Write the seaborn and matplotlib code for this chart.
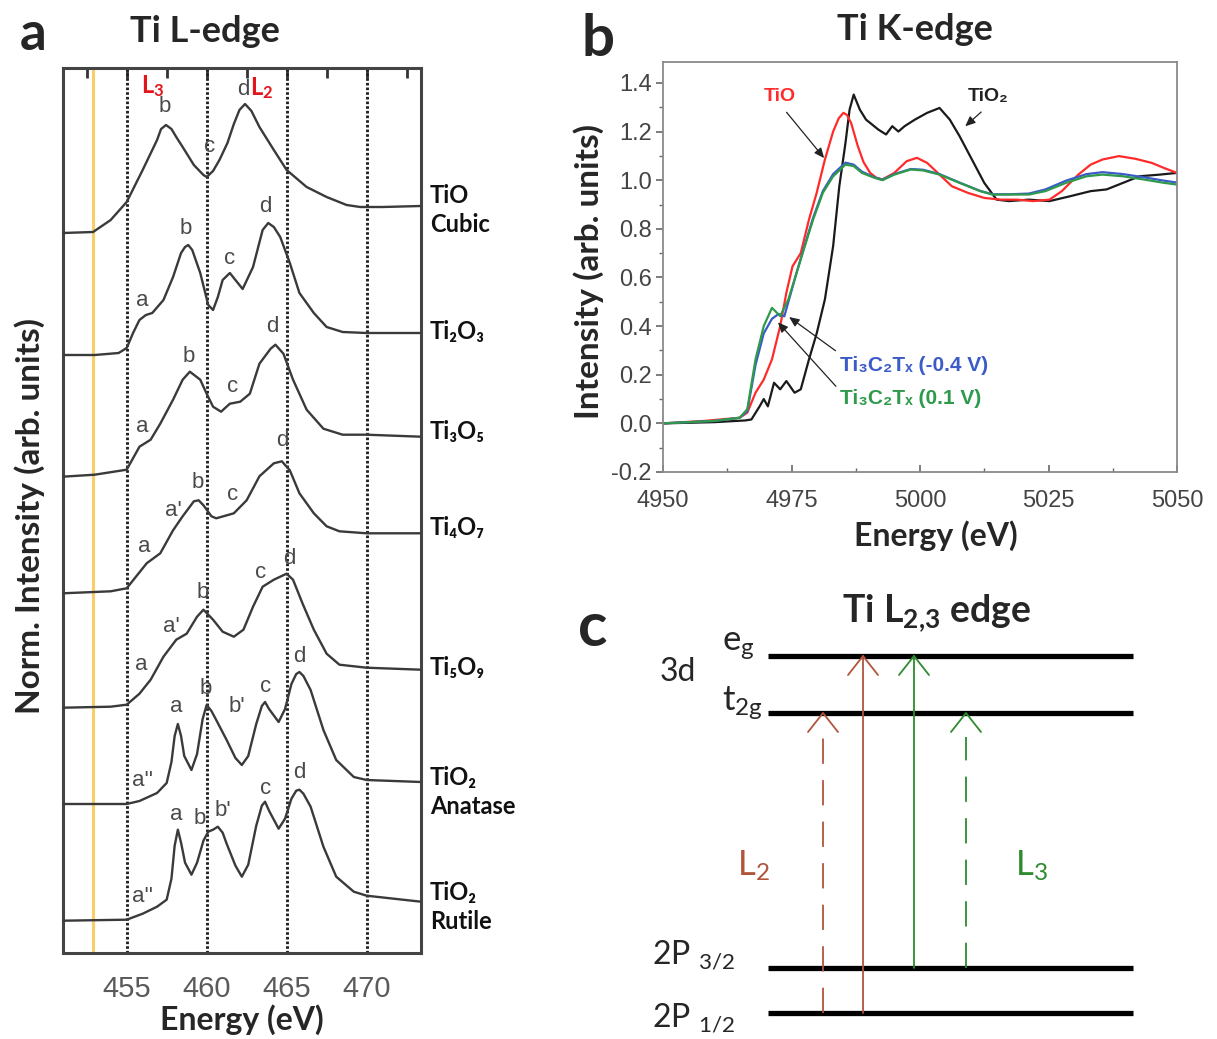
import matplotlib
matplotlib.use("Agg")
import matplotlib.pyplot as plt
from matplotlib.ticker import MultipleLocator
import numpy as np
import pandas as pd
import seaborn as sns

W, H = 1217, 1039

# ---------------- Panel a: Ti L-edge spectra of titanium oxides ----------------
tio_cubic_e = [451.0, 452.9, 454.0, 455.0, 456.0, 456.9, 457.15, 457.46, 457.8, 458.1, 458.5,
               459.2, 459.8, 460.0, 460.4, 460.8, 461.3, 461.7, 462.05, 462.4, 462.8,
               463.3, 464.2, 465.0, 466.25, 467.5, 468.75, 469.6, 471.0, 473.4]
tio_cubic_i = [0.0, 0.01, 0.13, 0.31, 0.63, 0.93, 1.04, 1.08, 1.04, 0.96, 0.86,
               0.68, 0.58, 0.56, 0.62, 0.73, 0.90, 1.09, 1.23, 1.29, 1.22,
               1.06, 0.83, 0.63, 0.46, 0.36, 0.28, 0.26, 0.26, 0.27]

ti2o3_e = [451.0, 453.0, 454.5, 455.0, 455.4, 455.8, 456.2, 456.6, 457.3, 457.9, 458.4,
           458.65, 458.85, 459.1, 459.6, 460.1, 460.4, 460.7, 461.0, 461.45, 461.85, 462.25,
           462.9, 463.5, 463.85, 464.2, 464.6, 465.2, 465.8, 466.7, 467.5, 468.5, 470.0,
           473.4]
ti2o3_i = [0.0, 0.0, 0.02, 0.07, 0.22, 0.35, 0.40, 0.42, 0.55, 0.78, 1.02,
           1.08, 1.10, 1.05, 0.82, 0.50, 0.45, 0.58, 0.75, 0.82, 0.74, 0.66,
           0.88, 1.25, 1.32, 1.28, 1.18, 0.92, 0.62, 0.42, 0.28, 0.23, 0.22,
           0.22]

ti3o5_e = [451.0, 453.0, 455.0, 455.8, 456.5, 457.1, 457.9, 458.5, 458.95, 459.6, 460.0,
           460.4, 460.9, 461.45, 462.1, 462.7, 463.3, 464.0, 464.3, 464.8, 465.4,
           466.25, 467.3, 468.5, 470.0, 473.4]
ti3o5_i = [0.0, 0.02, 0.07, 0.30, 0.37, 0.53, 0.77, 0.97, 1.05, 0.97, 0.83,
           0.70, 0.65, 0.73, 0.75, 0.83, 1.13, 1.28, 1.32, 1.23, 0.97,
           0.67, 0.48, 0.42, 0.42, 0.40]

ti4o7_e = [451.0, 454.0, 455.0, 455.6, 456.25, 457.1, 457.9, 458.5, 459.2, 459.5, 459.8,
           460.3, 460.6, 461.7, 462.5, 463.3, 464.2, 464.7, 465.2, 465.8, 466.7,
           467.5, 468.3, 470.0, 473.4]
ti4o7_i = [0.0, 0.02, 0.05, 0.17, 0.30, 0.40, 0.63, 0.77, 0.92, 0.93, 0.88,
           0.77, 0.75, 0.80, 0.93, 1.17, 1.30, 1.32, 1.23, 1.00, 0.80,
           0.67, 0.62, 0.60, 0.60]

ti5o9_e = [451.0, 454.0, 455.0, 455.8, 456.5, 457.3, 458.1, 458.75, 459.4, 459.8, 460.4,
           461.0, 461.7, 462.3, 462.9, 463.5, 464.2, 465.0, 465.4, 466.0, 466.7,
           467.5, 468.3, 470.0, 473.4]
ti5o9_i = [0.0, 0.01, 0.03, 0.14, 0.28, 0.51, 0.68, 0.74, 0.91, 0.98, 0.88,
           0.76, 0.71, 0.78, 1.01, 1.21, 1.28, 1.34, 1.28, 1.04, 0.78,
           0.54, 0.43, 0.40, 0.38]

anatase_e = [451.0, 455.0, 455.8, 456.9, 457.5, 457.8, 458.0, 458.2, 458.4, 458.6, 459.05,
             459.4, 459.75, 460.0, 460.3, 460.6, 461.25, 461.8, 462.2, 462.6, 463.1,
             463.45, 463.65, 463.9, 464.5, 464.9, 465.3, 465.6, 465.8, 466.05, 466.5,
             467.3, 468.1, 469.2, 470.0, 473.4]
anatase_i = [0.0, 0.0, 0.03, 0.11, 0.21, 0.42, 0.68, 0.80, 0.68, 0.48, 0.34,
             0.50, 0.85, 0.99, 0.93, 0.84, 0.64, 0.46, 0.39, 0.48, 0.80,
             0.98, 1.02, 0.95, 0.82, 0.95, 1.20, 1.30, 1.32, 1.28, 1.14,
             0.74, 0.44, 0.27, 0.24, 0.22]

rutile_e = [451.0, 455.0, 456.0, 456.9, 457.5, 457.8, 458.0, 458.2, 458.4, 458.65, 459.05,
            459.4, 459.8, 460.1, 460.4, 460.7, 461.0, 461.25, 461.8, 462.2, 462.6,
            463.1, 463.45, 463.65, 463.9, 464.5, 464.9, 465.3, 465.6, 465.8, 466.05,
            466.5, 467.3, 468.1, 469.2, 470.0, 473.4]
rutile_i = [0.0, 0.01, 0.07, 0.14, 0.21, 0.42, 0.75, 0.91, 0.78, 0.58, 0.46,
            0.58, 0.80, 0.89, 0.91, 0.94, 0.88, 0.77, 0.55, 0.44, 0.56,
            0.95, 1.15, 1.19, 1.10, 0.92, 1.02, 1.22, 1.30, 1.31, 1.27,
            1.14, 0.74, 0.44, 0.29, 0.25, 0.19]

l_edge_names = ["TiO\nCubic", "Ti₂O₃", "Ti₃O₅", "Ti₄O₇", "Ti₅O₉", "TiO₂\nAnatase", "TiO₂\nRutile"]
l_edge_energy = [tio_cubic_e, ti2o3_e, ti3o5_e, ti4o7_e, ti5o9_e, anatase_e, rutile_e]
l_edge_intensity = [tio_cubic_i, ti2o3_i, ti3o5_i, ti4o7_i, ti5o9_i, anatase_i, rutile_i]
l_edge_offset = [7.20, 5.98, 4.763, 3.597, 2.453, 1.49, 0.323]

# peak letters: (energy, stacked height, text)
l_edge_peaks = [
    [(457.39, 8.46, "b"), (460.2, 8.07, "c"), (462.27, 8.63, "d")],
    [(455.96, 6.53, "a"), (458.7, 7.25, "b"), (461.46, 6.95, "c"), (463.64, 7.46, "d")],
    [(455.96, 5.26, "a"), (458.9, 5.97, "b"), (461.64, 5.67, "c"), (464.08, 6.26, "d")],
    [(456.08, 4.07, "a"), (457.9, 4.43, "a'"), (459.46, 4.71, "b"), (461.64, 4.58, "c"),
     (464.7, 5.12, "d")],
    [(455.9, 2.88, "a"), (457.77, 3.26, "a'"), (459.77, 3.6, "b"), (463.4, 3.8, "c"),
     (465.14, 3.94, "d")],
    [(456.0, 1.72, "a''"), (458.1, 2.46, "a"), (459.96, 2.65, "b"), (461.9, 2.46, "b'"),
     (463.7, 2.67, "c"), (465.8, 2.97, "d")],
    [(456.0, 0.56, "a''"), (458.1, 1.39, "a"), (459.55, 1.35, "b"), (461.0, 1.43, "b'"),
     (463.7, 1.65, "c"), (465.8, 1.80, "d")],
]
l_edge_guides = [455, 460, 465, 470]
onset_energy = 452.9

# ---------------- Panel b: Ti K-edge XANES ----------------
k_tio_e = [4950, 4958, 4964.9, 4966.4, 4968.0, 4969.6, 4971.2, 4972.8, 4974.0, 4975.2, 4976.8,
           4978.4, 4979.9, 4981.5, 4983.1, 4984.2, 4985.1, 4985.8, 4986.6, 4987.9, 4989.0,
           4990.3, 4991.5, 4992.7, 4995.0, 4997.4, 4999.4, 5001.4, 5003.8, 5006.2, 5009.3,
           5012.5, 5015.7, 5018.9, 5022.0, 5025.2, 5027.6, 5030.8, 5033.2, 5035.5, 5038.7,
           5041.9, 5045.1, 5047.5, 5050]
k_tio_i = [0.0, 0.01, 0.023, 0.044, 0.126, 0.18, 0.263, 0.40, 0.537, 0.646, 0.70,
           0.838, 0.948, 1.085, 1.20, 1.255, 1.277, 1.268, 1.235, 1.14, 1.075,
           1.03, 1.01, 1.003, 1.03, 1.078, 1.092, 1.071, 1.023, 0.975, 0.948,
           0.927, 0.92, 0.92, 0.914, 0.92, 0.955, 1.023, 1.064, 1.085, 1.099,
           1.088, 1.071, 1.05, 1.03]

k_tio2_e = [4950, 4960, 4966.0, 4967.2, 4968.8, 4969.6, 4970.4, 4971.6, 4972.8, 4974.0,
            4975.6, 4976.8, 4978.4, 4979.9, 4981.5, 4983.1, 4984.3, 4985.5, 4986.3, 4987.1,
            4988.3, 4989.5, 4991.9, 4993.4, 4994.6, 4995.8, 4997.0, 4999.0, 5001.4, 5003.8,
            5005.8, 5007.7, 5010.1, 5012.5, 5014.9, 5017.3, 5021.2, 5025.2, 5029.2, 5033.2,
            5036.3, 5039.5, 5042.7, 5046.7, 5050]
k_tio2_i = [0.0, 0.005, 0.012, 0.016, 0.07, 0.10, 0.07, 0.167, 0.14, 0.174,
            0.126, 0.14, 0.263, 0.37, 0.51, 0.729, 0.975, 1.153, 1.29, 1.352,
            1.29, 1.249, 1.208, 1.188, 1.222, 1.20, 1.222, 1.249, 1.277, 1.297,
            1.249, 1.181, 1.085, 0.989, 0.92, 0.914, 0.92, 0.914, 0.934, 0.955,
            0.962, 0.989, 1.016, 1.023, 1.03]

k_mx_neg_e = [4950, 4960, 4964.9, 4966.4, 4968.0, 4969.6, 4971.2, 4972.5, 4973.6, 4974.4,
              4976.0, 4977.6, 4979.2, 4981.1, 4983.1, 4985.5, 4987.1, 4988.7, 4991.1, 4992.7,
              4995.0, 4998.2, 5000.6, 5003.8, 5007.7, 5011.7, 5014.1, 5017.3, 5021.2, 5024.4,
              5028.4, 5032.4, 5035.5, 5039.5, 5043.5, 5047.5, 5050]
k_mx_neg_i = [0.0, 0.01, 0.023, 0.05, 0.24, 0.37, 0.43, 0.45, 0.44, 0.50,
              0.62, 0.735, 0.845, 0.955, 1.025, 1.072, 1.064, 1.035, 1.012, 1.002,
              1.025, 1.046, 1.043, 1.025, 0.99, 0.956, 0.942, 0.942, 0.945, 0.962,
              0.998, 1.025, 1.033, 1.025, 1.012, 0.998, 0.99]

k_mx_pos_e = [4950, 4960, 4964.9, 4966.4, 4968.0, 4969.6, 4971.2, 4972.8, 4974.4, 4976.0,
              4977.6, 4979.2, 4981.1, 4983.1, 4985.5, 4987.1, 4988.7, 4991.1, 4992.7, 4995.0,
              4998.2, 5000.6, 5003.8, 5007.7, 5011.7, 5014.1, 5017.3, 5021.2, 5024.4, 5028.4,
              5032.4, 5035.5, 5039.5, 5043.5, 5047.5, 5050]
k_mx_pos_i = [0.0, 0.01, 0.023, 0.058, 0.263, 0.40, 0.475, 0.441, 0.51, 0.62,
              0.729, 0.838, 0.948, 1.016, 1.064, 1.058, 1.03, 1.01, 1.0, 1.023,
              1.044, 1.04, 1.023, 0.989, 0.955, 0.941, 0.941, 0.941, 0.955, 0.989,
              1.016, 1.023, 1.016, 1.003, 0.989, 0.982]

k_series = [
    ("TiO₂", k_tio2_e, k_tio2_i, "#1a1a1a"),
    ("TiO", k_tio_e, k_tio_i, "#ff2b2b"),
    ("Ti₃C₂Tₓ (-0.4 V)", k_mx_neg_e, k_mx_neg_i, "#3b5bc8"),
    ("Ti₃C₂Tₓ (0.1 V)", k_mx_pos_e, k_mx_pos_i, "#2f9a4c"),
]

# ---------------- Panel c: level scheme ----------------
level_names = ["eg", "t2g", "2P3/2", "2P1/2"]
level_height = [656, 713, 968, 1013]          # drawn on a pixel-like inverted scale
transitions = [  # (x, from level, to level, colour, dashed)
    (823, "2P1/2", "t2g", "#b0553c", True),
    (863, "2P1/2", "eg", "#b0553c", False),
    (914, "2P3/2", "eg", "#2e8b2e", False),
    (966, "2P3/2", "t2g", "#2e8b2e", True),
]

# ---------------- style ----------------
sns.set_theme(style="white")
plt.rcParams["font.family"] = ["Lato", "DejaVu Sans"]
plt.rcParams["mathtext.fontset"] = "custom"
plt.rcParams["mathtext.rm"] = "Lato"
plt.rcParams["mathtext.it"] = "Lato:italic"
plt.rcParams["mathtext.bf"] = "Lato:bold"

ARIAL = ["Liberation Sans", "DejaVu Sans"]

fig = plt.figure(figsize=(W / 100, H / 100), dpi=100)
fig.patch.set_facecolor("white")


def ftext(x, y, s, **kw):
    fig.text(x / W, 1 - y / H, s, **kw)


# ======== panel a ========
axa = fig.add_axes([63 / W, 1 - 953 / H, (421 - 63) / W, (953 - 68) / H])
axa.set_xlim(451.02, 473.4)
axa.set_ylim(0, 8.85)
axa.axvline(onset_energy, color="#f6cf6a", lw=2.2, zorder=1)
for g in l_edge_guides:
    axa.axvline(g, color="#222222", lw=2.1, ls=(0, (0.9, 0.7)), zorder=1)

for e, inten, off in zip(l_edge_energy, l_edge_intensity, l_edge_offset):
    d = pd.DataFrame({"energy": e, "signal": np.asarray(inten) + off})
    sns.lineplot(data=d, x="energy", y="signal", ax=axa, color="#3a3a3a", lw=1.7,
                 estimator=None, sort=False, legend=False, zorder=3)

for peaks in l_edge_peaks:
    for ex, yy, s in peaks:
        axa.text(ex, yy, s, ha="center", va="center", fontsize=16, color="#4a4a4a",
                 family=ARIAL, zorder=4)

axa.text(456.64, 8.67, r"L$_{\mathbf{3}}$", color="#e3151b", fontsize=17, fontweight="bold",
         ha="center", va="center")
axa.text(463.46, 8.65, r"L$_{\mathbf{2}}$", color="#e3151b", fontsize=17, fontweight="bold",
         ha="center", va="center")

axa.set_xticks([455, 460, 465, 470])
axa.xaxis.set_minor_locator(MultipleLocator(2.5))
axa.set_yticks([])
axa.tick_params(axis="x", which="major", direction="out", length=9, width=2,
                color="#333333", labelsize=21, labelcolor="#5a5a5a", pad=7)
axa.tick_params(axis="x", which="minor", direction="out", length=6, width=2, color="#333333")
for lab in axa.get_xticklabels():
    lab.set_family(ARIAL)
top = axa.secondary_xaxis("top")
top.set_xticks([455, 460, 465, 470])
top.xaxis.set_minor_locator(MultipleLocator(2.5))
top.tick_params(which="both", direction="in", length=7, width=2, color="#333333",
                labeltop=False)
top.spines["top"].set_visible(False)
for sp in axa.spines.values():
    sp.set_color("#444444")
    sp.set_linewidth(2.2)
axa.set_xlabel("")
axa.set_ylabel("")

label_y = [210, 332, 432, 528, 668, 792, 907]
for name, yy in zip(l_edge_names, label_y):
    ftext(430, yy, name, ha="left", va="center", fontsize=17, fontweight="bold",
          color="#111111", linespacing=1.3)

ftext(33, 34, "a", ha="center", va="center", fontsize=38, fontweight="bold")
ftext(205, 31, "Ti L-edge", ha="center", va="center", fontsize=26, fontweight="bold")
ftext(30, 516, "Norm. Intensity (arb. units)", ha="center", va="center", rotation=90,
      fontsize=24, fontweight="bold")
ftext(242, 1020, "Energy (eV)", ha="center", va="center", fontsize=23, fontweight="bold")

# ======== panel b ========
axb = fig.add_axes([663 / W, 1 - 472 / H, (1177 - 663) / W, (472 - 62) / H])
for name, e, inten, col in k_series:
    d = pd.DataFrame({"energy": e, "intensity": inten})
    sns.lineplot(data=d, x="energy", y="intensity", ax=axb, color=col, lw=1.6,
                 estimator=None, sort=False, legend=False)
axb.set_xlim(4950, 5050)
axb.set_ylim(-0.2, 1.486)
axb.set_xticks([4950, 4975, 5000, 5025, 5050])
axb.set_yticks(np.round(np.arange(-0.2, 1.41, 0.2), 1))
axb.yaxis.set_major_formatter(matplotlib.ticker.FormatStrFormatter("%.1f"))
axb.xaxis.set_minor_locator(MultipleLocator(12.5))
axb.yaxis.set_minor_locator(MultipleLocator(0.1))
axb.tick_params(axis="both", which="major", labelsize=17, labelcolor="#444444",
                color="#666666", width=1.2, length=5, bottom=True, left=True)
axb.tick_params(axis="both", which="minor", color="#666666", width=1.0, length=3,
                bottom=True, left=True)
axb.tick_params(axis="x", which="both", direction="in")
axb.tick_params(axis="x", which="major", pad=13)
axb.tick_params(axis="y", which="both", direction="out")
axb.tick_params(axis="y", which="major", pad=3)
for lab in axb.get_xticklabels() + axb.get_yticklabels():
    lab.set_family(ARIAL)
for sp in axb.spines.values():
    sp.set_color("#8a8a8a")
    sp.set_linewidth(1.3)
axb.set_xlabel("")
axb.set_ylabel("")

arrow_kw = dict(arrowstyle="-|>,head_length=0.5,head_width=0.22", color="#222222", lw=0.9)
axb.annotate("", xy=(4981.7, 1.082), xytext=(4973.7, 1.288), arrowprops=arrow_kw)
axb.annotate("", xy=(5008.4, 1.214), xytext=(5012.3, 1.288), arrowprops=arrow_kw)
axb.annotate("", xy=(4974.1, 0.444), xytext=(4984.0, 0.292), arrowprops=arrow_kw)
axb.annotate("", xy=(4972.0, 0.424), xytext=(4984.0, 0.144), arrowprops=arrow_kw)
axb.text(4972.8, 1.345, "TiO", color="#ff2b2b", fontsize=14, fontweight="bold",
         ha="center", va="center", family=ARIAL)
axb.text(5013.3, 1.345, "TiO₂", color="#222222", fontsize=14, fontweight="bold",
         ha="center", va="center", family=ARIAL)
axb.text(4984.4, 0.239, "Ti₃C₂Tₓ (-0.4 V)", color="#3b5bc8", fontsize=15, fontweight="bold",
         ha="left", va="center", family=ARIAL)
axb.text(4984.4, 0.103, "Ti₃C₂Tₓ (0.1 V)", color="#2f9a4c", fontsize=15, fontweight="bold",
         ha="left", va="center", family=ARIAL)

ftext(598, 40, "b", ha="center", va="center", fontsize=42, fontweight="bold")
ftext(915, 29, "Ti K-edge", ha="center", va="center", fontsize=26, fontweight="bold")
ftext(589, 272, "Intensity (arb. units)", ha="center", va="center", rotation=90,
      fontsize=24, fontweight="bold")
ftext(936, 536, "Energy (eV)", ha="center", va="center", fontsize=23, fontweight="bold")

# ======== panel c ========
axc = fig.add_axes([580 / W, 0, (W - 580) / W, (H - 580) / H])
axc.set_xlim(580, W)
axc.set_ylim(H, 580)
axc.axis("off")
lev = dict(zip(level_names, level_height))
for y in level_height:
    sns.lineplot(x=[768, 1133], y=[y, y], ax=axc, color="black", lw=3.8,
                 estimator=None, legend=False, solid_capstyle="butt")
for x, lo, hi, col, dashed in transitions:
    y0, y1 = lev[lo], lev[hi]
    if dashed:
        axc.plot([x, x], [y0, y1 + 24], color=col, lw=1.3, ls=(0, (14, 9)))
    else:
        axc.plot([x, x], [y0, y1], color=col, lw=1.3)
    axc.plot([x - 15, x, x + 15], [y1 + 19, y1, y1 + 19], color=col, lw=1.3)

axc.text(678, 672, "3d", fontsize=23, ha="center", va="center")
axc.text(722, 646, r"e$_{\mathrm{g}}$", fontsize=25, ha="left", va="center")
axc.text(722, 703, r"t$_{\mathrm{2g}}$", fontsize=25, ha="left", va="center")
axc.text(737, 866, r"L$_{\mathrm{2}}$", fontsize=25, ha="left", va="center", color="#b0553c")
axc.text(1015, 866, r"L$_{\mathrm{3}}$", fontsize=25, ha="left", va="center", color="#2e8b2e")
axc.text(652, 955, r"2P $_{\mathrm{3/2}}$", fontsize=23, ha="left", va="center")
axc.text(652, 1018, r"2P $_{\mathrm{1/2}}$", fontsize=23, ha="left", va="center")

ftext(593, 628, "c", ha="center", va="center", fontsize=44, fontweight="bold")
ftext(937, 613, r"Ti L$_{\mathbf{2{,}3}}$ edge", ha="center", va="center", fontsize=27,
      fontweight="bold")

fig.savefig("out.png", dpi=100, facecolor="white")
